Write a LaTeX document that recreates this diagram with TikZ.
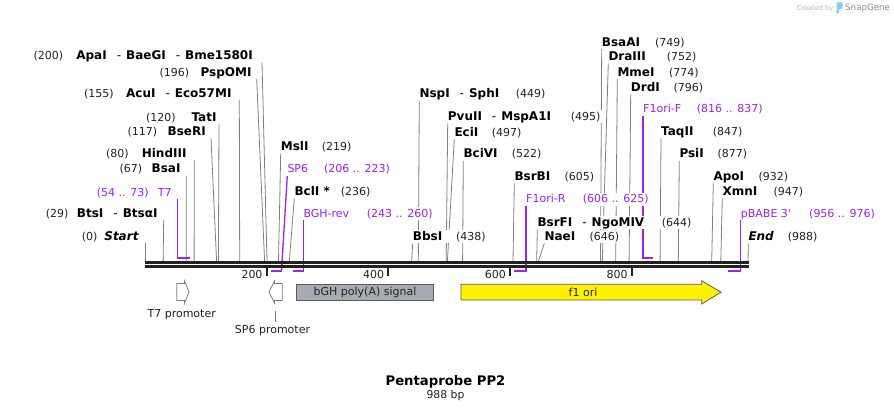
\documentclass[tikz,border=0pt]{standalone}
\usepackage{fontspec}
\setmainfont{DejaVu Sans}
\definecolor{prim}{RGB}{160,32,240}
\definecolor{cutgray}{RGB}{128,128,128}
\definecolor{txt}{RGB}{34,34,34}
\definecolor{bb}{RGB}{34,34,34}
\definecolor{bghfill}{RGB}{167,172,180}
\definecolor{featline}{RGB}{90,90,90}
\definecolor{sgblue}{RGB}{140,205,245}
\pgfdeclarelayer{bgfill}
\pgfdeclarelayer{bg}
\pgfdeclarelayer{mask}
\pgfsetlayers{bgfill,bg,mask,main}
\newcommand\enzsep{\hspace{10pt}{\mdseries -}\hspace{5pt}}
\tikzset{
  nm/.style={font=\fontsize{12}{14}\selectfont\bfseries, inner sep=0pt, text height=9pt, text depth=2.5pt, text=black},
  ps/.style={font=\fontsize{11}{13}\selectfont, inner sep=0pt, text height=9pt, text depth=2.5pt, text=txt},
  pnm/.style={font=\fontsize{11}{13}\selectfont, inner sep=0pt, text height=9pt, text depth=2.5pt, text=prim},
  pps/.style={pnm},
  cut/.style={draw=cutgray, line width=0.8pt},
  prl/.style={draw=prim, line width=1.3pt},
  prb/.style={draw=prim, line width=2.2pt},
  tk/.style={font=\fontsize{11}{13}\selectfont, inner sep=0pt, text=txt},
  feat/.style={font=\fontsize{11}{13}\selectfont, inner sep=0pt, text=txt},
}
\newcommand\maskbox[2]{\begin{pgfonlayer}{mask}\fill[white] ([xshift=-3pt,yshift=1pt]#1.north west) rectangle ([xshift=3pt]#2.south east);\end{pgfonlayer}}
% right label: id, nameX, cy, name, posX, pos, cutX
\newcommand\RL[7]{%
  \node[nm, anchor=base west] (#1) at (#2,{#3+4}) {#4};
  \node[ps, anchor=base west] (#1p) at (#5,{#3+4}) {#6};
  \coordinate (#1c) at (#7,261.5);
  \maskbox{#1}{#1p}
  \begin{pgfonlayer}{bg}\draw[cut] (#1.south west) -- (#1c);\end{pgfonlayer}}
% left label: id, nameEndX, cy, name, posX, pos, lineTopX, cutX
\newcommand\LL[8]{%
  \node[nm, anchor=base east] (#1) at (#2,{#3+4}) {#4};
  \node[ps, anchor=base west] (#1p) at (#5,{#3+4}) {#6};
  \coordinate (#1c) at (#8,261.5);
  \maskbox{#1p}{#1}
  \begin{pgfonlayer}{bg}\draw[cut] ([xshift={(#7-#2)*1pt}]#1.south east) -- (#1c);\end{pgfonlayer}}
% right primer: id, nameX, cy, name, posX, pos, kneeX, barY, barEndX
\newcommand\RP[9]{%
  \node[pnm, anchor=base west] (#1) at (#2,{#3+4}) {#4};
  \node[pps, anchor=base west] (#1p) at (#5,{#3+4}) {#6};
  \coordinate (#1k) at (#7,#8);
  \coordinate (#1b) at (#9,#8);
  \maskbox{#1}{#1p}
  \begin{pgfonlayer}{bg}\draw[prl] (#1.south west) -- (#1k);\draw[prb] ([xshift={(#7<#9 ? -0.6 : 0.6)*1pt}]#1k) -- (#1b);\end{pgfonlayer}}
\begin{document}
\begin{tikzpicture}[x=1pt,y=-1pt]
\useasboundingbox (0,0) rectangle (894,411);
\begin{pgfonlayer}{bgfill}\fill[white] (0,0) rectangle (894,411);\end{pgfonlayer}

% credit
\node[font=\fontsize{6.6}{8}\selectfont, text=black!30, inner sep=0pt, anchor=base west] (cred) at (796.7,10.5) {Created by};
\fill[sgblue] (836.5,2.5) -- (842.5,2.5) -- (842.5,8) -- (838.8,10) -- (838.8,13.5) -- (836.5,13.5) -- cycle;
\node[font=\fontsize{8.7}{10}\selectfont, text=black!45, inner sep=0pt, anchor=base west] (sg) at (845,11) {SnapGene};

% left-side enzyme labels
\LL{apa}{253}{56}{ApaI\enzsep BaeGI\enzsep Bme1580I}{33.3}{(200)}{262}{267}
\LL{psp}{251.7}{72.3}{PspOMI}{159.3}{(196)}{256.7}{264.6}
\LL{acu}{231.7}{93.3}{AcuI\enzsep Eco57MI}{84}{(155)}{239.3}{239.7}
\LL{tat}{216.7}{117.7}{TatI}{146}{(120)}{219}{218.4}
\LL{bse}{206}{131.7}{BseRI}{127.3}{(117)}{211}{216.6}
\LL{hind}{186.7}{153.3}{HindIII}{106}{(80)}{194.3}{194.1}
\LL{bsa}{180.7}{169}{BsaI}{119.3}{(67)}{186.3}{186.2}
\LL{bts}{157.7}{213.3}{BtsI\enzsep BtsαI}{45.7}{(29)}{163.7}{163.1}
\LL{startn}{138.7}{236.7}{\itshape Start}{81.7}{(0)}{145.3}{145.3}

% right-side enzyme labels
\RL{msl}{280.7}{146.7}{MslI}{321.7}{(219)}{278.5}
\RL{bcl}{294.3}{191.7}{BclI *}{340.7}{(236)}{289.3}
\RL{bbs}{412.7}{236.7}{BbsI}{456}{(438)}{411.6}
\RL{nsp}{419.3}{94}{NspI\enzsep SphI}{515.7}{(449)}{418.3}
\RL{pvu}{447.7}{116.7}{PvuII\enzsep MspA1I}{570.7}{(495)}{446.2}
\RL{eci}{454.3}{132.3}{EciI}{491.7}{(497)}{447.4}
\RL{bci}{463.3}{154}{BciVI}{511.7}{(522)}{462.6}
\RL{bsrb}{514.3}{176.7}{BsrBI}{564.3}{(605)}{513}
\RL{bsrf}{537.3}{222.7}{BsrFI\enzsep NgoMIV}{661.7}{(644)}{536.7}
\RL{nae}{544.3}{236.7}{NaeI}{589.3}{(646)}{538.3}
\RL{bsaa}{601.7}{42.3}{BsaAI}{655}{(749)}{600.5}
\RL{dra}{608.3}{56.7}{DraIII}{666.7}{(752)}{602.3}
\RL{mme}{617.3}{72.3}{MmeI}{669}{(774)}{615.7}
\RL{drd}{630.7}{87.3}{DrdI}{673.3}{(796)}{629.1}
\RL{taq}{661}{131.7}{TaqII}{712.7}{(847)}{660.1}
\RL{psi}{679.3}{154}{PsiI}{717.3}{(877)}{678.3}
\RL{apo}{713.3}{176.7}{ApoI}{758.3}{(932)}{711.7}
\RL{xmn}{722.3}{191.7}{XmnI}{773.3}{(947)}{720.8}
\RL{endn}{748.3}{236.7}{\itshape End}{787.7}{(988)}{748}

% primers
\node[pnm, anchor=base east] (t7) at (171.7,196.3) {T7};
\node[pps, anchor=base west] (t7p) at (96.7,196.3) {(54 .. 73)};
\coordinate (t7k) at (177.7,257.7);
\coordinate (t7b) at (189.8,257.7);
\maskbox{t7p}{t7}
\begin{pgfonlayer}{bg}\draw[prl] ([xshift=6pt]t7.south east) -- (t7k);\draw[prb] ([xshift=-0.6pt]t7k) -- (t7b);\end{pgfonlayer}
\RP{sp6}{287.3}{169}{SP6}{324}{(206 .. 223)}{281.5}{270.7}{270.6}
\RP{bgh}{303.3}{213.3}{BGH-rev}{366.7}{(243 .. 260)}{303.3}{270.7}{293}
\RP{fr}{526}{199}{F1ori-R}{582.7}{(606 .. 625)}{526}{270.7}{514.3}
\RP{ff}{643}{109}{F1ori-F}{696.7}{(816 .. 837)}{643}{257.7}{653.3}
\RP{pb}{740.7}{213.3}{pBABE 3\textquotesingle}{809}{(956 .. 976)}{740.7}{270.7}{727.7}

% backbone
\draw[bb, line width=2.7pt] (145,262.3) -- (748.5,262.3);
\draw[bb, line width=2.7pt] (145,266.3) -- (748.5,266.3);

% scale ticks
\foreach \x/\l in {266.7/200, 388.3/400, 510/600, 631.7/800}{
  \draw[bb, line width=2pt] (\x,267.5) -- (\x,276.5);
  \node[tk, anchor=base east] (tick\l) at ({\x-4},278.5) {\l};
}

% features
\draw[featline!80, line width=0.8pt, fill=white] (176.7,283.5) -- (184.5,283.5) -- (184.5,281) -- (189,292) -- (184.5,303) -- (184.5,300.5) -- (176.7,300.5) -- cycle;
\node[feat, anchor=base] (t7prom) at (181.7,317.3) {T7 promoter};
\draw[featline!80, line width=0.8pt, fill=white] (282.3,283.5) -- (274.5,283.5) -- (274.5,281) -- (269,292) -- (274.5,303) -- (274.5,300.5) -- (282.3,300.5) -- cycle;
\node[feat, anchor=base] (sp6prom) at (272.5,334) {SP6 promoter};
\coordinate (sp6tip) at (275.7,310.7);
\draw[featline!80, line width=0.8pt] (sp6tip) -- (sp6tip |- 0,322.3);
\node[feat, draw=featline, fill=bghfill, line width=0.8pt, minimum width=136.6pt, minimum height=15.7pt] (bghsig) at (365,292.15) {bGH poly(A) signal};
\draw[featline, line width=0.8pt, fill=yellow] (461,284.3) -- (701.7,284.3) -- (701.7,280.7) -- (721,292.2) -- (701.7,304) -- (701.7,300) -- (461,300) -- cycle;
\node[feat] (f1ori) at (583,292.2) {f1 ori};

% title
\node[font=\fontsize{13.2}{15}\selectfont\bfseries, inner sep=0pt, anchor=base, text=black] (title) at (445.5,385) {Pentaprobe PP2};
\node[font=\fontsize{10.8}{12}\selectfont, inner sep=0pt, anchor=base, text=txt] (bp) at (445.5,398.3) {988 bp};
\end{tikzpicture}
\end{document}
